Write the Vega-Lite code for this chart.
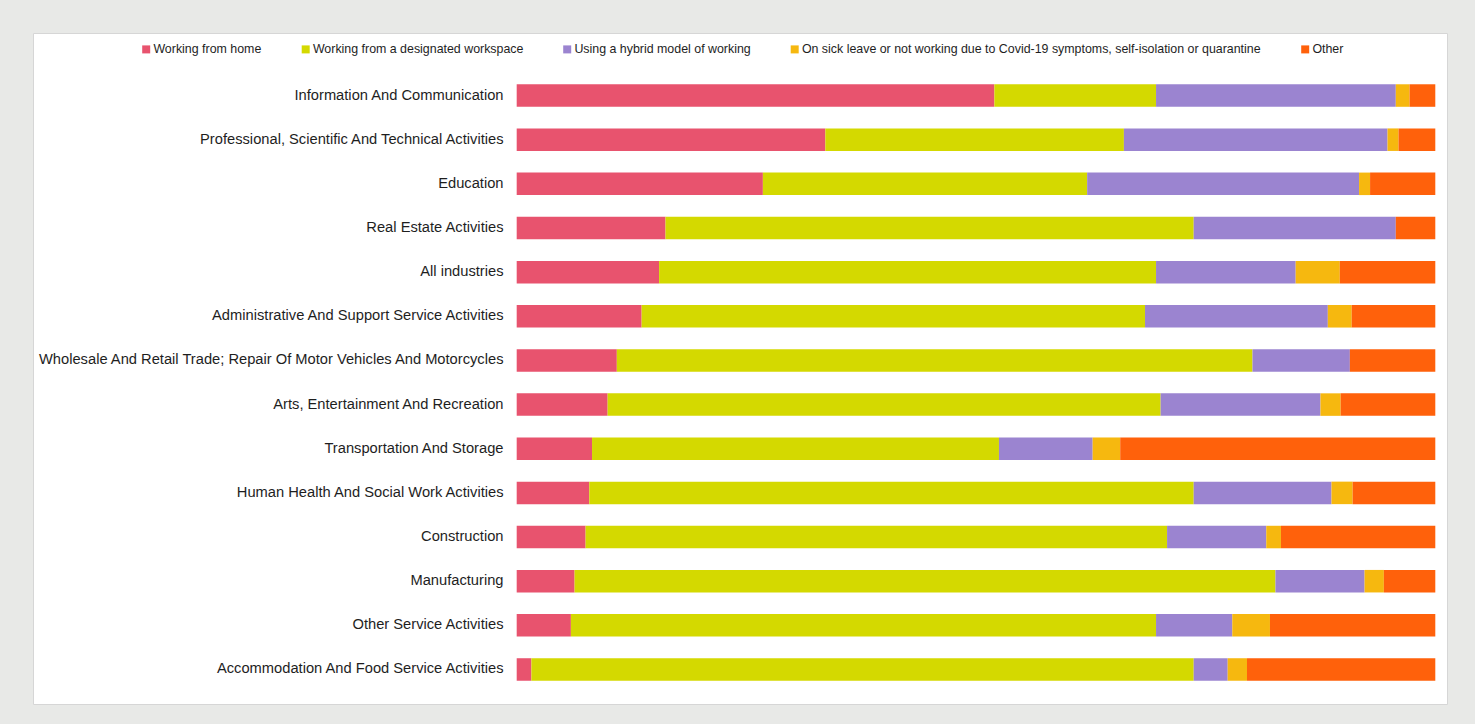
{
  "$schema": "https://vega.github.io/schema/vega-lite/v6.json",
  "autosize": {"type": "none"},
  "padding": {"left": 33, "top": 33, "right": 28, "bottom": 20},
  "width": 1414,
  "height": 671,
  "background": "#e8e9e7",
  "config": {
    "view": {"fill": "#ffffff", "stroke": "#d6d6d6", "strokeWidth": 1},
    "font": "Liberation Sans"
  },
  "data": {
    "values": [
      {"industry": "Information And Communication", "status": "Working from home", "n": 1, "pct": 52.0},
      {"industry": "Information And Communication", "status": "Working from a designated workspace", "n": 2, "pct": 17.6},
      {"industry": "Information And Communication", "status": "Using a hybrid model of working", "n": 3, "pct": 26.1},
      {"industry": "Information And Communication", "status": "On sick leave or not working due to Covid-19 symptoms, self-isolation or quarantine", "n": 4, "pct": 1.5},
      {"industry": "Information And Communication", "status": "Other", "n": 5, "pct": 2.8},
      {"industry": "Professional, Scientific And Technical Activities", "status": "Working from home", "n": 1, "pct": 33.6},
      {"industry": "Professional, Scientific And Technical Activities", "status": "Working from a designated workspace", "n": 2, "pct": 32.5},
      {"industry": "Professional, Scientific And Technical Activities", "status": "Using a hybrid model of working", "n": 3, "pct": 28.7},
      {"industry": "Professional, Scientific And Technical Activities", "status": "On sick leave or not working due to Covid-19 symptoms, self-isolation or quarantine", "n": 4, "pct": 1.2},
      {"industry": "Professional, Scientific And Technical Activities", "status": "Other", "n": 5, "pct": 4.0},
      {"industry": "Education", "status": "Working from home", "n": 1, "pct": 26.8},
      {"industry": "Education", "status": "Working from a designated workspace", "n": 2, "pct": 35.3},
      {"industry": "Education", "status": "Using a hybrid model of working", "n": 3, "pct": 29.6},
      {"industry": "Education", "status": "On sick leave or not working due to Covid-19 symptoms, self-isolation or quarantine", "n": 4, "pct": 1.2},
      {"industry": "Education", "status": "Other", "n": 5, "pct": 7.1},
      {"industry": "Real Estate Activities", "status": "Working from home", "n": 1, "pct": 16.2},
      {"industry": "Real Estate Activities", "status": "Working from a designated workspace", "n": 2, "pct": 57.5},
      {"industry": "Real Estate Activities", "status": "Using a hybrid model of working", "n": 3, "pct": 22.0},
      {"industry": "Real Estate Activities", "status": "On sick leave or not working due to Covid-19 symptoms, self-isolation or quarantine", "n": 4, "pct": 0},
      {"industry": "Real Estate Activities", "status": "Other", "n": 5, "pct": 4.3},
      {"industry": "All industries", "status": "Working from home", "n": 1, "pct": 15.5},
      {"industry": "All industries", "status": "Working from a designated workspace", "n": 2, "pct": 54.1},
      {"industry": "All industries", "status": "Using a hybrid model of working", "n": 3, "pct": 15.2},
      {"industry": "All industries", "status": "On sick leave or not working due to Covid-19 symptoms, self-isolation or quarantine", "n": 4, "pct": 4.8},
      {"industry": "All industries", "status": "Other", "n": 5, "pct": 10.4},
      {"industry": "Administrative And Support Service Activities", "status": "Working from home", "n": 1, "pct": 13.6},
      {"industry": "Administrative And Support Service Activities", "status": "Working from a designated workspace", "n": 2, "pct": 54.8},
      {"industry": "Administrative And Support Service Activities", "status": "Using a hybrid model of working", "n": 3, "pct": 19.9},
      {"industry": "Administrative And Support Service Activities", "status": "On sick leave or not working due to Covid-19 symptoms, self-isolation or quarantine", "n": 4, "pct": 2.6},
      {"industry": "Administrative And Support Service Activities", "status": "Other", "n": 5, "pct": 9.1},
      {"industry": "Wholesale And Retail Trade; Repair Of Motor Vehicles And Motorcycles", "status": "Working from home", "n": 1, "pct": 10.9},
      {"industry": "Wholesale And Retail Trade; Repair Of Motor Vehicles And Motorcycles", "status": "Working from a designated workspace", "n": 2, "pct": 69.2},
      {"industry": "Wholesale And Retail Trade; Repair Of Motor Vehicles And Motorcycles", "status": "Using a hybrid model of working", "n": 3, "pct": 10.6},
      {"industry": "Wholesale And Retail Trade; Repair Of Motor Vehicles And Motorcycles", "status": "On sick leave or not working due to Covid-19 symptoms, self-isolation or quarantine", "n": 4, "pct": 0},
      {"industry": "Wholesale And Retail Trade; Repair Of Motor Vehicles And Motorcycles", "status": "Other", "n": 5, "pct": 9.3},
      {"industry": "Arts, Entertainment And Recreation", "status": "Working from home", "n": 1, "pct": 9.9},
      {"industry": "Arts, Entertainment And Recreation", "status": "Working from a designated workspace", "n": 2, "pct": 60.2},
      {"industry": "Arts, Entertainment And Recreation", "status": "Using a hybrid model of working", "n": 3, "pct": 17.4},
      {"industry": "Arts, Entertainment And Recreation", "status": "On sick leave or not working due to Covid-19 symptoms, self-isolation or quarantine", "n": 4, "pct": 2.2},
      {"industry": "Arts, Entertainment And Recreation", "status": "Other", "n": 5, "pct": 10.3},
      {"industry": "Transportation And Storage", "status": "Working from home", "n": 1, "pct": 8.2},
      {"industry": "Transportation And Storage", "status": "Working from a designated workspace", "n": 2, "pct": 44.3},
      {"industry": "Transportation And Storage", "status": "Using a hybrid model of working", "n": 3, "pct": 10.2},
      {"industry": "Transportation And Storage", "status": "On sick leave or not working due to Covid-19 symptoms, self-isolation or quarantine", "n": 4, "pct": 3.0},
      {"industry": "Transportation And Storage", "status": "Other", "n": 5, "pct": 34.3},
      {"industry": "Human Health And Social Work Activities", "status": "Working from home", "n": 1, "pct": 7.9},
      {"industry": "Human Health And Social Work Activities", "status": "Working from a designated workspace", "n": 2, "pct": 65.8},
      {"industry": "Human Health And Social Work Activities", "status": "Using a hybrid model of working", "n": 3, "pct": 15.0},
      {"industry": "Human Health And Social Work Activities", "status": "On sick leave or not working due to Covid-19 symptoms, self-isolation or quarantine", "n": 4, "pct": 2.3},
      {"industry": "Human Health And Social Work Activities", "status": "Other", "n": 5, "pct": 9.0},
      {"industry": "Construction", "status": "Working from home", "n": 1, "pct": 7.5},
      {"industry": "Construction", "status": "Working from a designated workspace", "n": 2, "pct": 63.3},
      {"industry": "Construction", "status": "Using a hybrid model of working", "n": 3, "pct": 10.8},
      {"industry": "Construction", "status": "On sick leave or not working due to Covid-19 symptoms, self-isolation or quarantine", "n": 4, "pct": 1.6},
      {"industry": "Construction", "status": "Other", "n": 5, "pct": 16.8},
      {"industry": "Manufacturing", "status": "Working from home", "n": 1, "pct": 6.3},
      {"industry": "Manufacturing", "status": "Working from a designated workspace", "n": 2, "pct": 76.3},
      {"industry": "Manufacturing", "status": "Using a hybrid model of working", "n": 3, "pct": 9.7},
      {"industry": "Manufacturing", "status": "On sick leave or not working due to Covid-19 symptoms, self-isolation or quarantine", "n": 4, "pct": 2.1},
      {"industry": "Manufacturing", "status": "Other", "n": 5, "pct": 5.6},
      {"industry": "Other Service Activities", "status": "Working from home", "n": 1, "pct": 5.9},
      {"industry": "Other Service Activities", "status": "Working from a designated workspace", "n": 2, "pct": 63.7},
      {"industry": "Other Service Activities", "status": "Using a hybrid model of working", "n": 3, "pct": 8.3},
      {"industry": "Other Service Activities", "status": "On sick leave or not working due to Covid-19 symptoms, self-isolation or quarantine", "n": 4, "pct": 4.1},
      {"industry": "Other Service Activities", "status": "Other", "n": 5, "pct": 18.0},
      {"industry": "Accommodation And Food Service Activities", "status": "Working from home", "n": 1, "pct": 1.6},
      {"industry": "Accommodation And Food Service Activities", "status": "Working from a designated workspace", "n": 2, "pct": 72.1},
      {"industry": "Accommodation And Food Service Activities", "status": "Using a hybrid model of working", "n": 3, "pct": 3.7},
      {"industry": "Accommodation And Food Service Activities", "status": "On sick leave or not working due to Covid-19 symptoms, self-isolation or quarantine", "n": 4, "pct": 2.1},
      {"industry": "Accommodation And Food Service Activities", "status": "Other", "n": 5, "pct": 20.5}
    ]
  },
  "mark": {"type": "bar"},
  "encoding": {
    "y": {
      "field": "industry",
      "type": "nominal",
      "sort": null,
      "scale": {"paddingInner": 0.49, "paddingOuter": 0.844, "align": 0.688},
      "axis": {
        "title": null,
        "orient": "left",
        "offset": -484,
        "domain": false,
        "ticks": false,
        "tickSize": 0,
        "labelPadding": 14,
        "labelFontSize": 14.7,
        "labelColor": "#1e1e1e",
        "labelLimit": 600,
        "grid": false
      }
    },
    "x": {
      "field": "pct",
      "type": "quantitative",
      "stack": "normalize",
      "scale": {"domain": [-0.52656, 1.01274], "nice": false, "zero": false},
      "axis": null
    },
    "order": {"field": "n", "type": "quantitative", "sort": "ascending"},
    "color": {
      "field": "status",
      "type": "nominal",
      "sort": ["Working from home", "Working from a designated workspace", "Using a hybrid model of working", "On sick leave or not working due to Covid-19 symptoms, self-isolation or quarantine", "Other"],
      "scale": {
        "domain": ["Working from home", "Working from a designated workspace", "Using a hybrid model of working", "On sick leave or not working due to Covid-19 symptoms, self-isolation or quarantine", "Other"],
        "range": ["#e8536e", "#d4d900", "#9b84d0", "#f6b80f", "#ff610b"]
      },
      "legend": {
        "title": null,
        "orient": "none",
        "legendX": 107,
        "legendY": 10,
        "direction": "horizontal",
        "padding": 0,
        "symbolType": "square",
        "symbolSize": 64,
        "symbolStrokeWidth": 0,
        "labelFontSize": 12.4,
        "labelColor": "#1e1e1e",
        "labelOffset": 1,
        "labelLimit": 600,
        "columnPadding": 37.5
      }
    }
  }
}
